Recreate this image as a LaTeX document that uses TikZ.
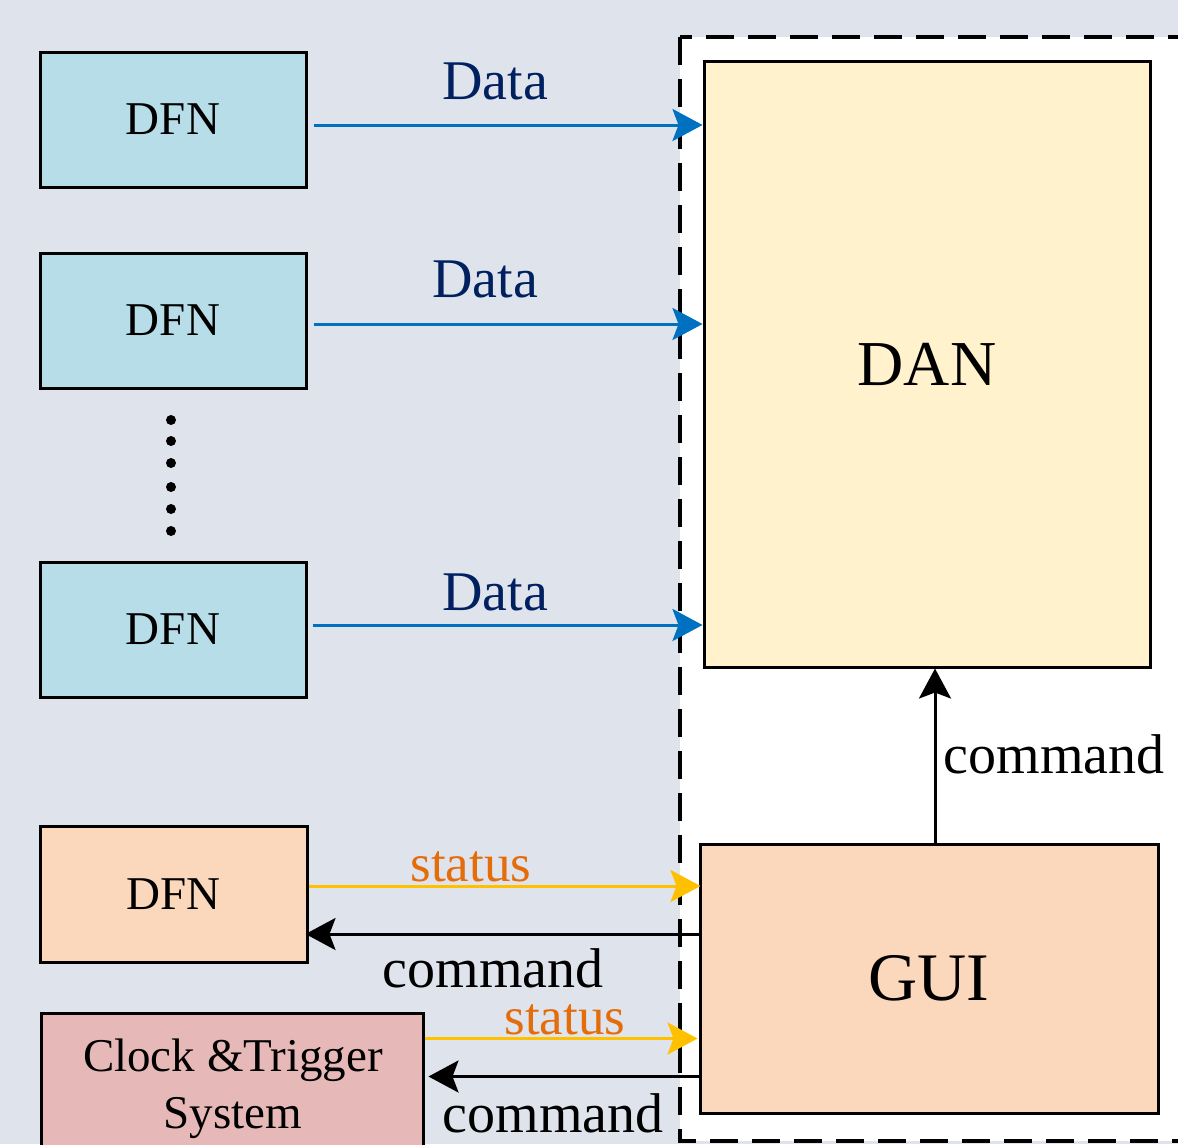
\documentclass[tikz,border=0pt]{standalone}
\usepackage{fontspec}
\setmainfont{Liberation Serif}
\usetikzlibrary{arrows.meta,calc}
\definecolor{bgc}{HTML}{DFE3EC}
\definecolor{dfnblue}{HTML}{B7DDE8}
\definecolor{dfnorange}{HTML}{FBD7BB}
\definecolor{clockred}{HTML}{E6B9B8}
\definecolor{danyellow}{HTML}{FFF2CC}
\definecolor{arrblue}{HTML}{0070C0}
\definecolor{datatext}{HTML}{002060}
\definecolor{statusline}{HTML}{FFC000}
\definecolor{statustext}{HTML}{E46C0A}
\begin{document}
\begin{tikzpicture}[x=1pt,y=-1pt,
  box/.style={draw=black, line width=3pt, inner sep=0pt},
  dfnbox/.style={box, fill=dfnblue, minimum width=266pt, minimum height=135pt, font=\fontsize{47}{55}\selectfont},
  tip/.style={-{Stealth[length=30pt,width=32pt,inset=6pt]}},
  dataarr/.style={tip, draw=arrblue, line width=3pt},
  statarr/.style={tip, draw=statusline, line width=3pt},
  cmdarr/.style={tip, draw=black, line width=3pt},
  datalbl/.style={anchor=base, text=datatext, font=\fontsize{56}{60}\selectfont, inner sep=0pt},
  statlbl/.style={anchor=base, text=statustext, font=\fontsize{53}{60}\selectfont, inner sep=0pt},
  cmdlbl/.style={anchor=base, text=black, font=\fontsize{56}{60}\selectfont, inner sep=0pt},
]
\useasboundingbox (0,0) rectangle (1178,1144);
\clip (0,0) rectangle (1178,1144);
\fill[bgc] (0,0) rectangle (1178,1144);
% dashed region
\draw[fill=white, line width=3.5pt, dash pattern=on 28pt off 14pt] (680,37) rectangle (1220,1141);

% DFN boxes
\node[dfnbox] (d1) at (173,119.5) {DFN};
\node[dfnbox] (d2) at (173,320.5) {DFN};
\node[dfnbox] (d3) at (173,629.5) {DFN};
\node[dfnbox, fill=dfnorange, minimum width=267pt, minimum height=136pt] (d4) at (173.5,894) {DFN};

% dots
\foreach \yy in {420,441,463,487,509,531} \fill (171,\yy) circle (5pt);

% clock box
\node[box, fill=clockred, minimum width=382pt, minimum height=170pt] (clk) at (232,1098) {};
\node[anchor=north, align=center, inner sep=0pt, font=\fontsize{47}{57}\selectfont] (clktext) at ($(clk.north)+(1,27)$) {Clock \&Trigger\\System};

% DAN and GUI
\node[box, fill=danyellow, minimum width=446pt, minimum height=606pt, font=\fontsize{64}{70}\selectfont] (dan) at (927,364) {DAN};
\node[box, fill=dfnorange, minimum width=458pt, minimum height=269pt, font=\fontsize{68}{70}\selectfont] (gui) at (929,978.5) {GUI};

% Data arrows
\draw[dataarr] ($(d1.east)+(6,5.5)$) -- ($(d1.east -| dan.west)+(0,5.5)$);
\draw[dataarr] ($(d2.east)+(6,3.5)$) -- ($(d2.east -| dan.west)+(0,3.5)$);
\draw[dataarr] ($(d3.east)+(5,-4.5)$) -- ($(d3.east -| dan.west)+(0,-4.5)$);
\node[datalbl] (l1) at (495,99) {Data};
\node[datalbl] (l2) at (485,297) {Data};
\node[datalbl] (l3) at (495,610) {Data};

% status / command between DFN and GUI
\draw[statarr] ($(d4.east)+(0,-8)$) -- ($(d4.east -| gui.west)+(2,-8)$);
\draw[cmdarr] ($(d4.east -| gui.west)+(0,40)$) -- ($(d4.east)+(-3,40)$);
\node[statlbl] (s1) at (471,881) {status};
\node[cmdlbl] (c1) at (493,987) {command};

% status / command between clock and GUI
\coordinate (clkrow) at ($(clk.north east)+(0,27)$);
\draw[statarr] (clkrow) -- ($(clkrow -| gui.west)+(-1,0)$);
\draw[cmdarr] ($(clkrow -| gui.west)+(0,38)$) -- ($(clkrow)+(4,38)$);
\node[statlbl] (s2) at (565,1034) {status};
\node[cmdlbl] (c2) at (553,1132) {command};

% GUI to DAN
\draw[cmdarr] ($(gui.north)+(6,0)$) -- ($(gui.north |- dan.south)+(6,0)$);
\node[cmdlbl] (c3) at (1054,773) {command};
\end{tikzpicture}
\end{document}
